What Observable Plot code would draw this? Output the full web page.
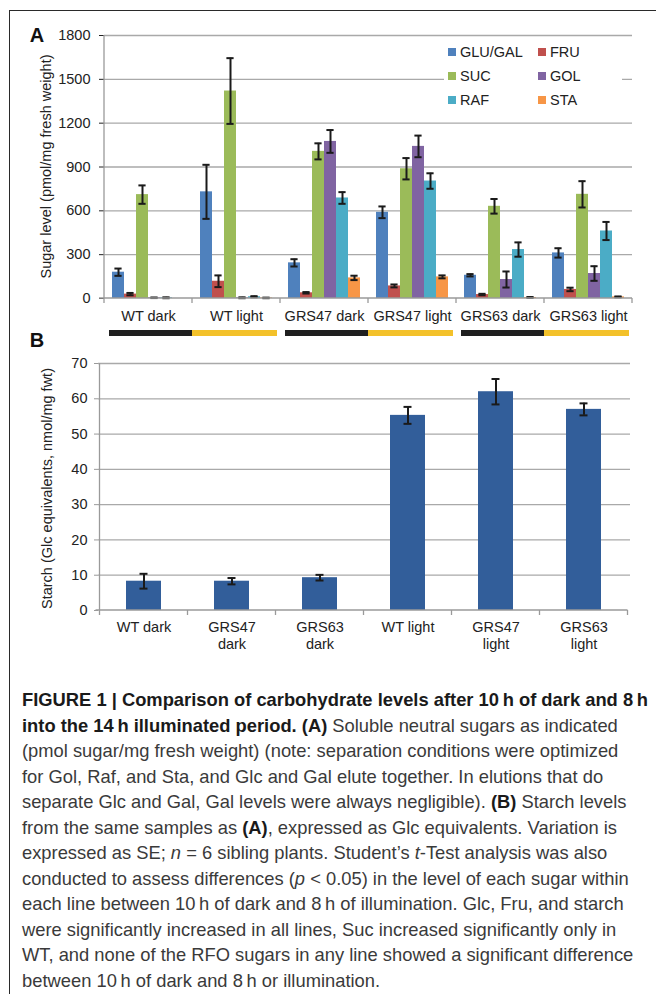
<!DOCTYPE html>
<html><head><meta charset="utf-8">
<script src="https://cdn.jsdelivr.net/npm/d3@7"></script>
<script src="https://cdn.jsdelivr.net/npm/@observablehq/plot@0.6"></script>
<style>
html,body{margin:0;padding:0;background:#fff;}
body{width:656px;height:994px;position:relative;overflow:hidden;font-family:"Liberation Sans",Arial,Helvetica,sans-serif;color:#222;}
#frame{position:absolute;left:9px;top:10px;width:660px;height:1000px;border-left:1px solid #2a2a2a;border-top:1px solid #2a2a2a;box-sizing:border-box;}
#panelA{position:absolute;left:0;top:0;}
#panelB{position:absolute;left:0;top:325px;}
#legend{position:absolute;left:444px;top:42px;width:178px;height:72px;background:#fff;z-index:3;font-size:14.5px;color:#222;}
#legend .item{position:absolute;display:flex;align-items:center;white-space:nowrap;}
#legend .sw{display:inline-block;width:8px;height:8px;margin-right:4px;}
#caption{position:absolute;left:22px;top:687px;line-height:25.5px;white-space:nowrap;color:#3a3a3a;font-family:"Liberation Sans",Arial,sans-serif;font-size:18.5px;transform-origin:0 0;}
#caption b{color:#1a1a1a;}
svg{overflow:visible;}
</style>
</head><body>
<div id="frame"></div>
<div id="panelA"></div>
<div id="legend"></div>
<div id="panelB"></div>
<div id="caption">
<div id="cl1"><b>FIGURE 1 | Comparison of carbohydrate levels after 10&#8201;h of dark and 8&#8201;h</b></div>
<div><b>into the 14&#8201;h illuminated period. (A)</b> Soluble neutral sugars as indicated</div>
<div>(pmol sugar/mg fresh weight) (note: separation conditions were optimized</div>
<div>for Gol, Raf, and Sta, and Glc and Gal elute together. In elutions that do</div>
<div>separate Glc and Gal, Gal levels were always negligible). <b>(B)</b> Starch levels</div>
<div>from the same samples as <b>(A)</b>, expressed as Glc equivalents. Variation is</div>
<div>expressed as SE; <i>n</i> = 6 sibling plants. Student’s <i>t</i>-Test analysis was also</div>
<div>conducted to assess differences (<i>p</i> &lt; 0.05) in the level of each sugar within</div>
<div>each line between 10&#8201;h of dark and 8&#8201;h of illumination. Glc, Fru, and starch</div>
<div>were significantly increased in all lines, Suc increased significantly only in</div>
<div>WT, and none of the RFO sugars in any line showed a significant difference</div>
<div>between 10&#8201;h of dark and 8&#8201;h or illumination.</div>
</div>
<script>
// ---------- DATA ----------
const groups = ["WT dark", "WT light", "GRS47 dark", "GRS47 light", "GRS63 dark", "GRS63 light"];
const conditions = ["dark", "light", "dark", "light", "dark", "light"];
const sugars = ["GLU/GAL", "FRU", "SUC", "GOL", "RAF", "STA"];
const sugarColors = ["#4f81bd", "#c0504d", "#9bbb59", "#8064a2", "#4bacc6", "#f79646"];
const gluValues = [180, 730, 244, 590, 159, 312];
const gluErrors = [25, 185, 25, 40, 8, 32];
const fruValues = [30, 118, 39, 86, 27, 62];
const fruErrors = [8, 40, 5, 10, 5, 12];
const sucValues = [711, 1420, 1007, 888, 631, 713];
const sucErrors = [63, 225, 55, 73, 50, 90];
const golValues = [5, 5, 1075, 1041, 130, 171];
const golErrors = [2, 3, 78, 74, 55, 50];
const rafValues = [5, 12, 688, 804, 335, 462];
const rafErrors = [3, 4, 40, 53, 49, 62];
const staValues = [0, 4, 141, 148, 7, 11];
const staErrors = [0, 2, 15, 10, 3, 3];
const yTicksA = [0, 300, 600, 900, 1200, 1500, 1800];

const samples = ["WT dark", "GRS47 dark", "GRS63 dark", "WT light", "GRS47 light", "GRS63 light"];
const sampleLabels = ["WT dark", "GRS47\ndark", "GRS63\ndark", "WT light", "GRS47\nlight", "GRS63\nlight"];
const starchValues = [8.3, 8.3, 9.3, 55.3, 62.0, 57.0];
const starchErrors = [2.1, 0.9, 0.8, 2.4, 3.6, 1.7];
const yTicksB = [0, 10, 20, 30, 40, 50, 60, 70];

// ---------- STYLE ----------
const FONT = '"Liberation Sans", Arial, Helvetica, sans-serif';
const GRID = "#a9a9a9";
const AXIS = "#9a9a9a";
const ERR = "#1a1a1a";
const DARKBAR = "#1f1f1f";
const LIGHTBAR = "#f3c12a";
const STARCH = "#325e9a";

// ---------- PANEL A ----------
const sugarValues = [gluValues, fruValues, sucValues, golValues, rafValues, staValues];
const sugarErrors = [gluErrors, fruErrors, sucErrors, golErrors, rafErrors, staErrors];
const rows = [];
groups.forEach((g, gi) => sugars.forEach((s, si) => rows.push({group: g, sugar: s, value: sugarValues[si][gi], err: sugarErrors[si][gi]})));

const chartA = Plot.plot({
  width: 656, height: 340,
  marginTop: 35, marginBottom: 42, marginLeft: 104, marginRight: 24,
  style: {fontFamily: FONT, fontSize: "14.5px", color: "#222", background: "transparent", overflow: "visible"},
  facet: {data: rows, x: "group"},
  fx: {domain: groups, padding: 0, axis: "bottom", label: null, tickSize: 0, tickPadding: 12},
  x: {domain: sugars, paddingInner: 0, paddingOuter: 0.44, axis: null},
  y: {domain: [0, 1800], ticks: yTicksA, tickSize: 5, tickPadding: 9, label: null, tickFormat: d => String(d)},
  color: {domain: sugars, range: sugarColors},
  marks: [
    Plot.ruleY(yTicksA.slice(1), {stroke: GRID, strokeWidth: 1.3}),
    Plot.barY(rows, {x: "sugar", y: "value", fill: "sugar"}),
    Plot.ruleX(rows, {x: "sugar", y1: d => d.value - d.err, y2: d => d.value + d.err, stroke: ERR, strokeWidth: 2, filter: d => d.err > 0}),
    Plot.tickY(rows, {x: "sugar", y: d => d.value + d.err, stroke: ERR, strokeWidth: 2, insetLeft: 2.4, insetRight: 2.4, filter: d => d.err > 0}),
    Plot.tickY(rows, {x: "sugar", y: d => Math.max(0, d.value - d.err), stroke: ERR, strokeWidth: 2, insetLeft: 2.4, insetRight: 2.4, filter: d => d.err > 0})
  ]
});
document.getElementById("panelA").appendChild(chartA);

(function decorateA() {
  const svg = d3.select(chartA);
  svg.selectAll('[aria-label="y-axis"] line, [aria-label="y-axis tick"]').attr("stroke", AXIS);
  const fx = chartA.scale("fx"), y = chartA.scale("y");
  const bw = fx.bandwidth;
  const left = fx.apply(groups[0]);
  const right = fx.apply(groups[groups.length - 1]) + bw;
  const y0 = y.apply(0), yTop = y.apply(1800);
  const g = svg.append("g");
  g.append("line").attr("x1", left).attr("x2", left).attr("y1", yTop).attr("y2", y0).attr("stroke", AXIS).attr("stroke-width", 1.3);
  g.append("line").attr("x1", left - 5).attr("x2", right).attr("y1", y0).attr("y2", y0).attr("stroke", AXIS).attr("stroke-width", 1.3);
  const bounds = groups.map(d => fx.apply(d)).concat([right]);
  bounds.forEach(b => g.append("line").attr("x1", b).attr("x2", b).attr("y1", y0).attr("y2", y0 + 5).attr("stroke", AXIS).attr("stroke-width", 1.3));
  groups.forEach((grp, i) => {
    const dark = conditions[i] === "dark";
    const x = fx.apply(grp) + (dark ? 5 : 0);
    const w = bw - (dark ? 5 : 3);
    g.append("rect").attr("x", x).attr("y", 330).attr("width", w).attr("height", 6).attr("fill", dark ? DARKBAR : LIGHTBAR);
  });
  g.append("text").attr("x", 37).attr("y", 42).attr("font-size", 20).attr("font-weight", "bold").attr("fill", "#111").text("A");
  g.append("text").attr("transform", `translate(46,${(yTop + y0) / 2}) rotate(-90)`).attr("text-anchor", "middle").attr("dy", "0.35em")
    .attr("font-size", 14.5).attr("fill", "#222").text("Sugar level (pmol/mg fresh weight)");
})();

// Legend
(function legend() {
  const L = document.getElementById("legend");
  sugars.forEach((s, i) => {
    const col = i % 2, row = Math.floor(i / 2);
    const it = document.createElement("div");
    it.className = "item";
    it.style.left = (col === 0 ? 4 : 94) + "px";
    it.style.top = (row * 24 + 2) + "px";
    it.innerHTML = `<span class="sw" style="background:${sugarColors[i]}"></span><span>${s}</span>`;
    L.appendChild(it);
  });
})();

// ---------- PANEL B ----------
const starchRows = samples.map((s, i) => ({sample: s, label: sampleLabels[i], value: starchValues[i], err: starchErrors[i]}));
const chartB = Plot.plot({
  width: 656, height: 335,
  marginTop: 38, marginBottom: 50, marginLeft: 98, marginRight: 26,
  style: {fontFamily: FONT, fontSize: "14.5px", color: "#222", background: "transparent", overflow: "visible"},
  x: {domain: samples, paddingInner: 0.6, paddingOuter: 0.3, axis: null},
  y: {domain: [0, 70], ticks: yTicksB, tickSize: 4, tickPadding: 7, label: null},
  marks: [
    Plot.ruleY(yTicksB.slice(1), {stroke: GRID, strokeWidth: 1.3}),
    Plot.barY(starchRows, {x: "sample", y: "value", fill: STARCH}),
    Plot.ruleX(starchRows, {x: "sample", y1: d => d.value - d.err, y2: d => d.value + d.err, stroke: ERR, strokeWidth: 2}),
    Plot.tickY(starchRows, {x: "sample", y: d => d.value + d.err, stroke: ERR, strokeWidth: 2, insetLeft: 13.5, insetRight: 13.5}),
    Plot.tickY(starchRows, {x: "sample", y: d => d.value - d.err, stroke: ERR, strokeWidth: 2, insetLeft: 13.5, insetRight: 13.5}),
    Plot.text(starchRows, {x: "sample", y: () => 0, text: "label", lineAnchor: "top", dy: 9, lineHeight: 1.17, fill: "#222"})
  ]
});
document.getElementById("panelB").appendChild(chartB);

(function decorateB() {
  const svg = d3.select(chartB);
  svg.selectAll('[aria-label="y-axis"] line, [aria-label="y-axis tick"]').attr("stroke", AXIS);
  const x = chartB.scale("x"), y = chartB.scale("y");
  const step = x.step, bw = x.bandwidth;
  const bounds = samples.map(s => x.apply(s) - (step - bw) / 2);
  const left = bounds[0], right = bounds[bounds.length - 1] + step;
  bounds.push(right);
  const y0 = y.apply(0), yTop = y.apply(70);
  const g = svg.append("g");
  g.append("line").attr("x1", left).attr("x2", left).attr("y1", yTop).attr("y2", y0).attr("stroke", AXIS).attr("stroke-width", 1.3);
  g.append("line").attr("x1", left - 4).attr("x2", right).attr("y1", y0).attr("y2", y0).attr("stroke", AXIS).attr("stroke-width", 1.3);
  bounds.forEach(b => g.append("line").attr("x1", b).attr("x2", b).attr("y1", y0).attr("y2", y0 + 5).attr("stroke", AXIS).attr("stroke-width", 1.3));
  g.append("text").attr("x", 37).attr("y", 22).attr("font-size", 20).attr("font-weight", "bold").attr("fill", "#111").text("B");
  g.append("text").attr("transform", `translate(47,${(yTop + y0) / 2 + 2}) rotate(-90)`).attr("text-anchor", "middle").attr("dy", "0.35em")
    .attr("font-size", 14.5).attr("fill", "#222").text("Starch (Glc equivalents, nmol/mg fwt)");
})();

// ---------- CAPTION fit (horizontal condensing to match the narrow typeface) ----------
(function fitCaption() {
  const l1 = document.getElementById("cl1");
  l1.style.display = "inline-block";
  const w = l1.getBoundingClientRect().width;
  l1.style.display = "block";
  const s = 626 / w;
  document.getElementById("caption").style.transform = `scaleX(${s.toFixed(4)})`;
})();
</script>
</body></html>
